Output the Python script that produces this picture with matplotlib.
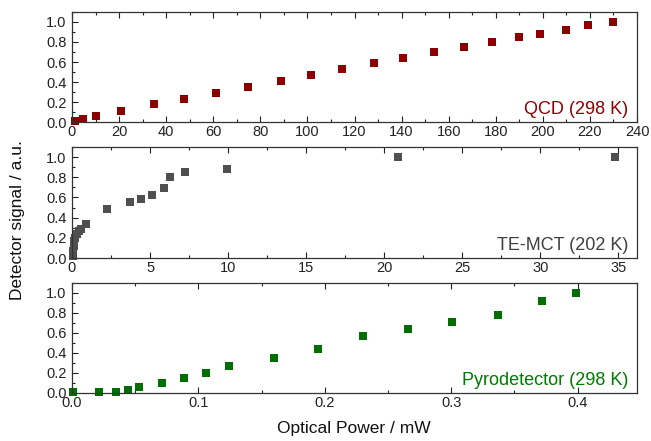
import matplotlib
matplotlib.use("Agg")
import matplotlib.pyplot as plt
from matplotlib.ticker import MultipleLocator

plt.rcParams['font.family'] = ['Liberation Sans', 'DejaVu Sans']

# QCD (298 K)
qcd_x = [1.3, 4.8, 10, 21, 34.8, 47.6, 61.2, 74.8, 88.8, 101.7, 114.8, 128.4, 140.5,
         153.9, 166.5, 178.3, 189.9, 198.8, 209.9, 219.3, 229.7]
qcd_y = [0.015, 0.03, 0.063, 0.11, 0.177, 0.23, 0.29, 0.35, 0.41, 0.47, 0.53, 0.59, 0.64,
         0.70, 0.75, 0.80, 0.85, 0.88, 0.92, 0.97, 1.00]

# TE-MCT (202 K)
mct_x = [0.05, 0.07, 0.1, 0.12, 0.2, 0.3, 0.45, 0.6, 0.87, 2.26, 3.7, 4.45, 5.13, 5.9,
         6.3, 7.22, 9.95, 20.9, 34.8]
mct_y = [0.02, 0.07, 0.12, 0.17, 0.2, 0.24, 0.27, 0.29, 0.34, 0.49, 0.555, 0.58, 0.62,
         0.69, 0.80, 0.85, 0.88, 1.0, 1.0]

# Pyrodetector (298 K)
pyro_x = [0.001, 0.0216, 0.035, 0.044, 0.053, 0.071, 0.0887, 0.106, 0.124, 0.160, 0.195,
          0.230, 0.266, 0.301, 0.337, 0.372, 0.399]
pyro_y = [0.007, 0.007, 0.007, 0.027, 0.057, 0.097, 0.15, 0.20, 0.267, 0.347, 0.443,
          0.57, 0.643, 0.713, 0.78, 0.923, 1.0]

labels = ['QCD (298 K)', 'TE-MCT (202 K)', 'Pyrodetector (298 K)']
colors = ['#8b0000', '#4f4f4f', '#006e00']
text_colors = ['#8b0000', '#404040', '#007a00']
xlims = [240, 36.2, 0.447]
xmajor = [20, 5, 0.1]
xminor = [10, 2.5, 0.05]

W, H = 651, 441
fig = plt.figure(figsize=(W / 100, H / 100), dpi=100)
left, right = 72 / W, 637 / W
boxes = [(12, 122), (147, 258), (283, 393)]
data = [(qcd_x, qcd_y), (mct_x, mct_y), (pyro_x, pyro_y)]

for i, ((top, bot), (xs, ys)) in enumerate(zip(boxes, data)):
    ax = fig.add_axes([left, 1 - bot / H, right - left, (bot - top) / H])
    ax.plot(xs, ys, 's', color=colors[i], markersize=5.3, markeredgewidth=0, clip_on=False)
    ax.set_xlim(0, xlims[i])
    ax.set_ylim(0, 1.1)
    ax.xaxis.set_major_locator(MultipleLocator(xmajor[i]))
    ax.xaxis.set_minor_locator(MultipleLocator(xminor[i]))
    ax.yaxis.set_major_locator(MultipleLocator(0.2))
    ax.yaxis.set_minor_locator(MultipleLocator(0.1))
    ax.set_yticks([0, 0.2, 0.4, 0.6, 0.8, 1.0])
    ax.set_yticklabels(['0.0', '0.2', '0.4', '0.6', '0.8', '1.0'])
    if i == 2:
        ax.set_xticks([0, 0.1, 0.2, 0.3, 0.4])
        ax.set_xticklabels(['0.0', '0.1', '0.2', '0.3', '0.4'])
    ax.tick_params(which='both', direction='in', top=True, right=False,
                   labelsize=10.5, colors='#222222')
    ax.tick_params(axis='x', pad=2.5)
    ax.tick_params(axis='y', pad=4)
    ax.tick_params(which='major', length=4, width=0.8)
    ax.tick_params(which='minor', length=2, width=0.8)
    for s in ax.spines.values():
        s.set_linewidth(0.9)
        s.set_color('#333333')
    ax.text(0.985, 0.035, labels[i], transform=ax.transAxes, ha='right', va='bottom',
            fontsize=13, color=text_colors[i])

fig.text(18 / W, 1 - 220 / H, 'Detector signal / a.u.', rotation=90, ha='center',
         va='center', fontsize=12.5, color='#111111')
fig.text(354 / W, 1 - 429 / H, 'Optical Power / mW', ha='center', va='center',
         fontsize=12.5, color='#111111')

fig.savefig('out.png', dpi=100)
